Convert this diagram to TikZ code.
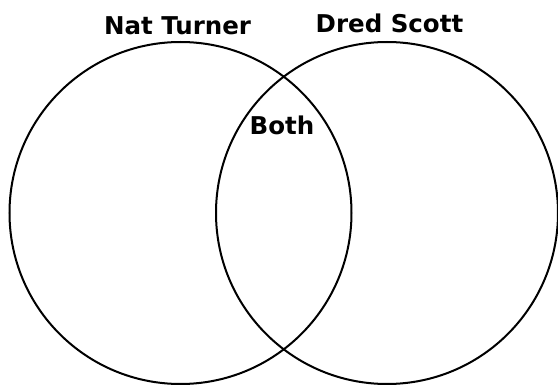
\documentclass[tikz,border=0pt]{standalone}
\usepackage{fontspec}
\setmainfont{DejaVu Sans}
\usetikzlibrary{shapes.misc}

\begin{document}
\begin{tikzpicture}[x=1pt, y=-1pt, line width=2pt]

	\useasboundingbox (0,0) rectangle (558,385);
			\tikzset{ring/.style={draw, circle, minimum size=342pt, inner sep=0pt},
				label/.style={anchor=base, inner sep=0pt, font=\fontsize{24.5}{28}\selectfont\bfseries}}

			\node[ring] (NT) at (180.5,213) {};
			\node[ring] (DS) at (387,213) {};

			\node[label] (NTL) at (177.5,35) {Nat Turner};
			\node[label] (DSL) at (389.5,33) {Dred Scott};
			\node[label] (BL) at (282,135) {Both};

\end{tikzpicture}
\end{document}
